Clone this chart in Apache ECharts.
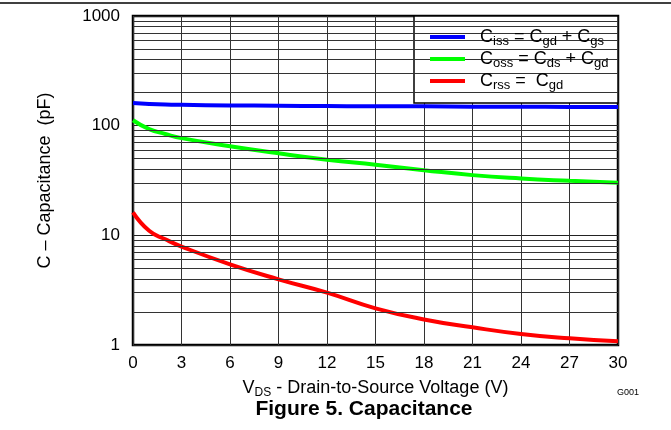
<!DOCTYPE html>
<html>
<head>
<meta charset="utf-8">
<script src="https://cdn.jsdelivr.net/npm/echarts@6/dist/echarts.min.js"></script>
<style>html,body{margin:0;padding:0;background:#fff;}#c{width:671px;height:430px;}</style>
</head>
<body>
<div id="c"></div>
<script>
var vds = [0, 1, 2, 3, 6, 9, 12, 15, 18, 21, 24, 27, 30];
var ciss = [161, 158, 156, 155, 153, 152, 151, 150, 150, 149, 149, 148, 148];
var coss = [112, 93, 84, 77, 65, 56, 49, 44, 39.3, 35.4, 33, 31.4, 30.1];
var crss = [16.2, 11.0, 9.2, 7.9, 5.44, 3.97, 3.0, 2.16, 1.71, 1.45, 1.26, 1.15, 1.08];
var minorGrid = [2,3,4,5,6,7,8,9,20,30,40,50,60,70,80,90,200,300,400,500,600,700,800,900];
var seriesNames = ['Ciss', 'Coss', 'Crss'];
var legendLabels = {
  'Ciss': '{g|}{m|C}{s|iss}{m| = C}{s|gd}{m| + C}{s|gs}',
  'Coss': '{g|}{m|C}{s|oss}{m| = C}{s|ds}{m| + C}{s|gd}',
  'Crss': '{g|}{m|C}{s|rss}{m| =  C}{s|gd}'
};
function pairs(ys){ return vds.map(function(x,i){ return [x, ys[i]]; }); }
var font = 'Liberation Sans, Arial, sans-serif';
var chart = echarts.init(document.getElementById('c'), null, {renderer:'canvas'});
chart.setOption({
  animation: false,
  backgroundColor: '#fff',
  textStyle: {fontFamily: font, color: '#000'},
  title: {
    text: 'Figure 5. Capacitance',
    left: 364, top: 398, textAlign: 'center', padding: 0,
    textStyle: {fontFamily: font, fontSize: 21, fontWeight: 'bold', color: '#000', lineHeight: 22}
  },
  graphic: [
    {type:'line', shape:{x1:0, y1:3, x2:671, y2:3}, style:{stroke:'#000', lineWidth:1.5}},
    {type:'rect', z: 5, shape:{x:414, y:16, width:204, height:87}, style:{fill:'#fff', stroke:'#000', lineWidth:1.5}},
    {type:'text', x: 628, y: 393, style:{text:'G001', font: '9px ' + font, fill:'#000', textAlign:'center', textVerticalAlign:'middle'}}
  ],
  grid: {left: 133, right: 53, top: 16, bottom: 85, show: true, borderColor: '#000', borderWidth: 2.5, backgroundColor: 'transparent'},
  legend: {
    orient: 'vertical', left: 430, top: 26, z: 10,
    data: seriesNames,
    icon: 'rect', itemWidth: 35, itemHeight: 4, itemGap: 0,
    padding: 0,
    formatter: function(n){ return legendLabels[n]; },
    textStyle: {
      fontFamily: font, color: '#000', fontSize: 18,
      rich: {
        g: {width: 10},
        m: {fontSize: 18, lineHeight: 20, fontFamily: font, color:'#000'},
        s: {fontSize: 13, lineHeight: 11, padding: [9, 0, 0, 0], fontFamily: font, color:'#000'}
      }
    }
  },
  xAxis: {
    type: 'value', min: 0, max: 30, interval: 3,
    name: '{m|V}{s|DS}{m| - Drain-to-Source Voltage (V)}',
    nameLocation: 'middle', nameGap: 33,
    nameTextStyle: {rich: {
      m: {fontSize: 18, fontFamily: font, color:'#000', lineHeight: 20},
      s: {fontSize: 12, fontFamily: font, color:'#000', lineHeight: 11, padding: [9,0,0,0]}
    }},
    axisLine: {show: false},
    axisTick: {show: false},
    axisLabel: {fontSize: 17, color: '#000', margin: 10, fontFamily: font},
    splitLine: {show: true, lineStyle: {color: '#333', width: 1}}
  },
  yAxis: {
    type: 'log', logBase: 10, min: 1, max: 1000,
    name: 'C \u2013 Capacitance  (pF)',
    nameLocation: 'middle', nameGap: 79,
    nameTextStyle: {fontSize: 18, fontFamily: font, color: '#000'},
    axisLine: {show: false},
    axisTick: {show: false},
    axisLabel: {fontSize: 17, color: '#000', margin: 13, fontFamily: font, formatter: function(v){ return String(v); }},
    splitLine: {show: true, lineStyle: {color: '#222', width: 1}}
  },
  series: [
    {
      name: 'grid', type: 'line', data: [], z: 1, silent: true,
      markLine: {
        silent: true, symbol: ['none','none'], label: {show: false},
        lineStyle: {color: '#333', width: 1, type: 'solid'},
        data: minorGrid.map(function(v){ return {yAxis: v}; })
      }
    },
    {name: 'Ciss', type: 'line', data: pairs(ciss), smooth: true, symbol: 'none', lineStyle: {color: '#0000ff', width: 4}, itemStyle: {color: '#0000ff'}, z: 3},
    {name: 'Coss', type: 'line', data: pairs(coss), smooth: true, symbol: 'none', lineStyle: {color: '#00ff00', width: 4}, itemStyle: {color: '#00ff00'}, z: 3},
    {name: 'Crss', type: 'line', data: pairs(crss), smooth: true, symbol: 'none', lineStyle: {color: '#ff0000', width: 4}, itemStyle: {color: '#ff0000'}, z: 3}
  ]
});
</script>
</body>
</html>
